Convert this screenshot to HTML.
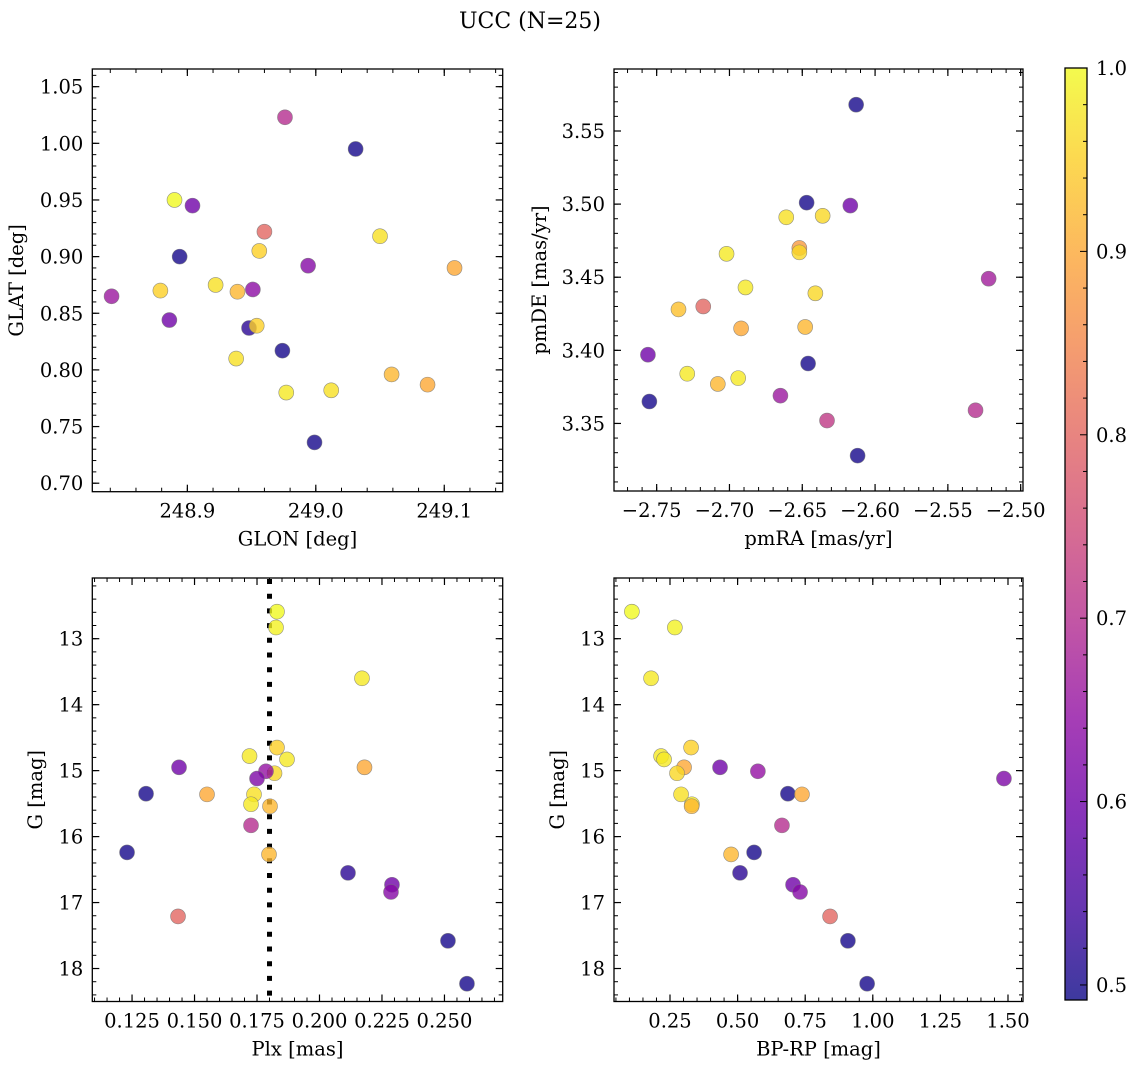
<!DOCTYPE html>
<html><head><meta charset="utf-8">
<style>
html,body{margin:0;padding:0;background:#fff;}
svg{display:block;font-family:"DejaVu Serif","Liberation Serif",serif;}
</style></head>
<body>
<svg id="fig" width="1136" height="1068" viewBox="0 0 1136 1068" xmlns="http://www.w3.org/2000/svg">
<rect width="1136" height="1068" fill="#fff"/>
<text x="530" y="28" font-size="22" text-anchor="middle">UCC (N=25)</text>
</svg>
<script>
// ---- data: top-left (GLON/GLAT) ----
const glon = [248.976,249.031,248.890,248.904,248.894,248.960,249.050,248.956,248.994,249.108,248.922,248.939,248.951,248.879,248.841,248.886,248.948,248.954,248.974,248.938,249.059,249.087,248.977,249.012,248.999];
const glat = [1.023,0.995,0.950,0.945,0.900,0.922,0.918,0.905,0.892,0.890,0.875,0.869,0.871,0.870,0.865,0.844,0.837,0.839,0.817,0.810,0.796,0.787,0.780,0.782,0.736];
const probTL = [0.70,0.50,1.00,0.60,0.50,0.80,0.97,0.95,0.63,0.90,0.97,0.92,0.64,0.95,0.66,0.60,0.52,0.95,0.50,0.97,0.92,0.90,0.98,0.97,0.50];
// ---- data: top-right (pmRA/pmDE) ----
const pmra = [-2.613,-2.647,-2.617,-2.661,-2.636,-2.652,-2.652,-2.702,-2.689,-2.641,-2.522,-2.735,-2.718,-2.692,-2.648,-2.756,-2.646,-2.729,-2.708,-2.694,-2.665,-2.633,-2.755,-2.531,-2.612];
const pmde = [3.568,3.501,3.499,3.491,3.492,3.470,3.467,3.466,3.443,3.439,3.449,3.428,3.430,3.415,3.416,3.397,3.391,3.384,3.377,3.381,3.369,3.352,3.365,3.359,3.328];
const probTR = [0.50,0.50,0.60,0.97,0.96,0.88,0.96,0.98,0.98,0.96,0.67,0.93,0.80,0.90,0.92,0.60,0.50,0.98,0.92,0.98,0.66,0.72,0.50,0.70,0.50];
// ---- data: bottom panels (G vs Plx, BP-RP) ----
const gmag = [12.59,12.83,13.60,14.65,14.78,14.83,14.95,14.95,15.04,15.01,15.12,15.35,15.36,15.36,15.51,15.54,15.83,16.27,16.24,16.55,16.73,16.84,17.21,17.58,18.23];
const plx  = [0.183,0.1826,0.217,0.183,0.172,0.187,0.1438,0.218,0.182,0.1786,0.175,0.1306,0.155,0.1738,0.1726,0.1802,0.1726,0.1798,0.123,0.2114,0.229,0.2286,0.1434,0.2514,0.259];
const bprp = [0.109,0.268,0.180,0.328,0.217,0.228,0.435,0.302,0.276,0.575,1.485,0.686,0.738,0.291,0.331,0.330,0.664,0.476,0.561,0.509,0.705,0.731,0.842,0.908,0.979];
const probB = [1.00,0.99,0.98,0.95,0.98,0.98,0.60,0.90,0.96,0.65,0.62,0.50,0.90,0.97,0.98,0.92,0.70,0.92,0.50,0.52,0.60,0.63,0.80,0.50,0.50];
const plxLine = [0.18];
// ---- ticks ----
const tlXT=[248.9,249.0,249.1], tlXL=["248.9","249.0","249.1"];
const tlYT=[0.70,0.75,0.80,0.85,0.90,0.95,1.00,1.05], tlYL=["0.70","0.75","0.80","0.85","0.90","0.95","1.00","1.05"];
const trXT=[-2.75,-2.70,-2.65,-2.60,-2.55,-2.50], trXL=["\u22122.75","\u22122.70","\u22122.65","\u22122.60","\u22122.55","\u22122.50"];
const trYT=[3.35,3.40,3.45,3.50,3.55], trYL=["3.35","3.40","3.45","3.50","3.55"];
const blXT=[0.125,0.150,0.175,0.200,0.225,0.250], blXL=["0.125","0.150","0.175","0.200","0.225","0.250"];
const gT=[13,14,15,16,17,18], gL=["13","14","15","16","17","18"];
const brXT=[0.25,0.50,0.75,1.00,1.25,1.50], brXL=["0.25","0.50","0.75","1.00","1.25","1.50"];
const cbT=[0.5,0.6,0.7,0.8,0.9,1.0], cbL=["0.5","0.6","0.7","0.8","0.9","1.0"];
const VMIN=0.4918, VMAX=1.0;

const FS=19.5;
const NS="http://www.w3.org/2000/svg";
const svg=document.getElementById('fig');
function mk(tag,attrs,parent){const e=document.createElementNS(NS,tag);for(const k in attrs)e.setAttribute(k,attrs[k]);(parent||svg).appendChild(e);return e;}
const PL=[[13,8,135],[65,4,157],[106,0,168],[143,13,164],[177,42,144],[204,71,120],[225,100,98],[242,132,75],[252,166,54],[252,206,37],[240,249,33]];
function cmap(v){let t=(v-VMIN)/(VMAX-VMIN);t=Math.max(0,Math.min(1,t))*10;const i=Math.min(9,Math.floor(t)),f=t-i;const a=PL[i],b=PL[i+1];return `rgb(${Math.round(a[0]+(b[0]-a[0])*f)},${Math.round(a[1]+(b[1]-a[1])*f)},${Math.round(a[2]+(b[2]-a[2])*f)})`;}
function lin(d0,d1,p0,p1){return v=>p0+(v-d0)/(d1-d0)*(p1-p0);}

function panel(o){
  const g=mk('g',{});
  
  
  const {L,R,T,B}=o; const sx=lin(o.xd[0],o.xd[1],L,R), sy=lin(o.yd[0],o.yd[1],B,T);
  const mt=mk('g',{stroke:'#000','stroke-width':1},g);
  
  
  const lo=Math.min(...o.xd),hi=Math.max(...o.xd);
  for(let k=Math.ceil(lo/o.xm-1e-6);k*o.xm<=hi+1e-9;k++){const x=sx(k*o.xm);if(x<L+0.5||x>R-0.5)continue;mk('line',{x1:x,x2:x,y1:B,y2:B-4},mt);mk('line',{x1:x,x2:x,y1:T,y2:T+4},mt);}
  const ylo=Math.min(...o.yd),yhi=Math.max(...o.yd);
  for(let k=Math.ceil(ylo/o.ym-1e-6);k*o.ym<=yhi+1e-9;k++){const y=sy(k*o.ym);if(y<T+0.5||y>B-0.5)continue;mk('line',{x1:L,x2:L+4,y1:y,y2:y},mt);mk('line',{x1:R,x2:R-4,y1:y,y2:y},mt);}
  o.xt.forEach((v,i)=>{const x=sx(v);mk('line',{x1:x,x2:x,y1:B,y2:B-7,stroke:'#000','stroke-width':1.2},g);mk('line',{x1:x,x2:x,y1:T,y2:T+7,stroke:'#000','stroke-width':1.2},g);
    const t=mk('text',{x:x-(o.xl[i].startsWith('\u2212')?5:0),y:B+26,'font-size':FS,'text-anchor':'middle'},g);t.textContent=o.xl[i];
    
    });
  o.yt.forEach((v,i)=>{const y=sy(v);mk('line',{x1:L,x2:L+7,y1:y,y2:y,stroke:'#000','stroke-width':1.2},g);mk('line',{x1:R,x2:R-7,y1:y,y2:y,stroke:'#000','stroke-width':1.2},g);
    const t=mk('text',{x:L-9,y:y+7,'font-size':FS,'text-anchor':'end'},g);t.textContent=o.yl[i];
    
    });
  if(o.vline){o.vline.forEach(v=>{const l=mk('line',{x1:sx(v),x2:sx(v),y1:T+1,y2:B,stroke:'#000','stroke-width':5,'stroke-dasharray':'5 9.7'},g);
    
    });}
  const pts=mk('g',{},g);
  
  
  o.x.forEach((v,i)=>{const c=mk('circle',{cx:sx(v),cy:sy(o.y[i]),r:7.5,fill:cmap(o.c[i]),'fill-opacity':0.8,stroke:'#777','stroke-width':0.6,'stroke-opacity':0.8},pts);
    
    });
  const fr=mk('rect',{x:L,y:T,width:R-L,height:B-T,fill:'none',stroke:'#000','stroke-width':1.3},g);
  
  
  const xl=mk('text',{x:(L+R)/2,y:B+54,'font-size':FS,'text-anchor':'middle'},g);xl.textContent=o.xlab;
  
  
  const yl=mk('text',{x:0,y:0,'font-size':FS,'text-anchor':'middle',transform:`translate(${o.ylx},${(T+B)/2}) rotate(-90)`},g);yl.textContent=o.ylab;
  
  
}
panel({name:'glon-glat-panel',L:92.3,R:502.7,T:69,B:491.7,xd:[248.826,249.1455],yd:[0.6925,1.0656],xm:0.02,ym:0.01,xt:tlXT,xl:tlXL,yt:tlYT,yl:tlYL,x:glon,y:glat,c:probTL,xlab:'GLON [deg]',ylab:'GLAT [deg]',ylx:23});
panel({name:'pm-panel',L:614,R:1023,T:69,B:491,xd:[-2.7793,-2.4984],yd:[3.3038,3.5924],xm:0.01,ym:0.01,xt:trXT,xl:trXL,yt:trYT,yl:trYL,x:pmra,y:pmde,c:probTR,xlab:'pmRA [mas/yr]',ylab:'pmDE [mas/yr]',ylx:546});
panel({name:'plx-g-panel',L:92.3,R:502.7,T:578,B:1001.5,xd:[0.1091,0.2733],yd:[18.50,12.08],xm:0.005,ym:0.2,xt:blXT,xl:blXL,yt:gT,yl:gL,x:plx,y:gmag,c:probB,xlab:'Plx [mas]',ylab:'G [mag]',ylx:42,vline:plxLine});
panel({name:'cmd-panel',L:614,R:1023,T:578,B:1001.5,xd:[0.0429,1.5555],yd:[18.50,12.08],xm:0.05,ym:0.2,xt:brXT,xl:brXL,yt:gT,yl:gL,x:bprp,y:gmag,c:probB,xlab:'BP-RP [mag]',ylab:'G [mag]',ylx:564});

const cb=mk('g',{});


const CL=1065,CR=1087,CT=68,CB=1000; const cy=lin(VMIN,VMAX,CB,CT);
const defs=mk('defs',{},cb); const gr=mk('linearGradient',{id:'plasma',x1:0,y1:1,x2:0,y2:0},defs);
PL.forEach((c,i)=>mk('stop',{offset:i/10,'stop-color':`rgb(${c[0]},${c[1]},${c[2]})`},gr));
mk('rect',{x:CL,y:CT,width:CR-CL,height:CB-CT,fill:'url(#plasma)','fill-opacity':0.8},cb);
for(let k=25;k<=50;k++){const v=k*0.02;if(v<VMIN||v>VMAX)continue;const y=cy(v);const maj=Math.abs(v*10-Math.round(v*10))<1e-6;mk('line',{x1:CR,x2:CR-(maj?7:4),y1:y,y2:y,stroke:'#000','stroke-width':1},cb);}
cbT.forEach((v,i)=>{const t=mk('text',{x:CR+9,y:cy(v)+7,'font-size':FS},cb);t.textContent=cbL[i];
  
  });
mk('rect',{x:CL,y:CT,width:CR-CL,height:CB-CT,fill:'none',stroke:'#000','stroke-width':1.3},cb);
</script>
</body></html>
